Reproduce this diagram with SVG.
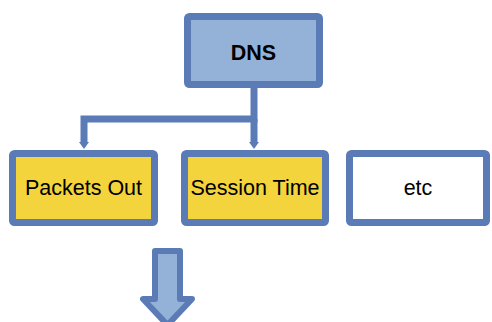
<svg xmlns="http://www.w3.org/2000/svg" width="492" height="322" viewBox="0 0 492 322">
<defs>
<style>
.box{stroke:#5a7bb5;stroke-width:7;}
.blue{fill:#94b2d8;}
.yellow{fill:#f4d43c;}
.white{fill:#ffffff;}
.lbl{font-family:"Liberation Sans",Arial,sans-serif;font-size:21.5px;fill:#000;text-anchor:middle;}
.conn{fill:none;stroke:#5a7bb5;stroke-width:7;stroke-linejoin:miter;}
</style>
<marker id="ah" markerUnits="userSpaceOnUse" markerWidth="10" markerHeight="10" viewBox="0 0 10 10" refX="0" refY="5" orient="auto">
<path d="M0,0 L7,5 L0,10 Z" fill="#5a7bb5"/>
</marker>
</defs>
<g id="connectors">
<path class="conn" d="M254,88 V119 H84 V142" marker-end="url(#ah)"/>
<path class="conn" d="M254,119 V142" marker-end="url(#ah)"/>
</g>
<g id="dns">
<rect class="box blue" x="187.5" y="16.5" width="132" height="68" rx="2"/>
<text class="lbl" x="253.5" y="60" font-weight="bold" font-size="24">DNS</text>
</g>
<g id="packets-out">
<rect class="box yellow" x="12.5" y="153.5" width="142" height="69" rx="2"/>
<text class="lbl" x="83.5" y="195">Packets Out</text>
</g>
<g id="session-time">
<rect class="box yellow" x="184.5" y="153.5" width="141" height="69" rx="2"/>
<text class="lbl" x="255" y="195">Session Time</text>
</g>
<g id="etc">
<rect class="box white" x="349.5" y="153.5" width="137" height="69" rx="2"/>
<text class="lbl" x="418" y="195">etc</text>
</g>
<g id="down-arrow">
<path d="M155,251 H180 V299 H192 L167.5,325 L143,299 H155 Z" fill="#94b2d8" stroke="#5a7bb5" stroke-width="6" stroke-linejoin="round"/>
</g>
</svg>
